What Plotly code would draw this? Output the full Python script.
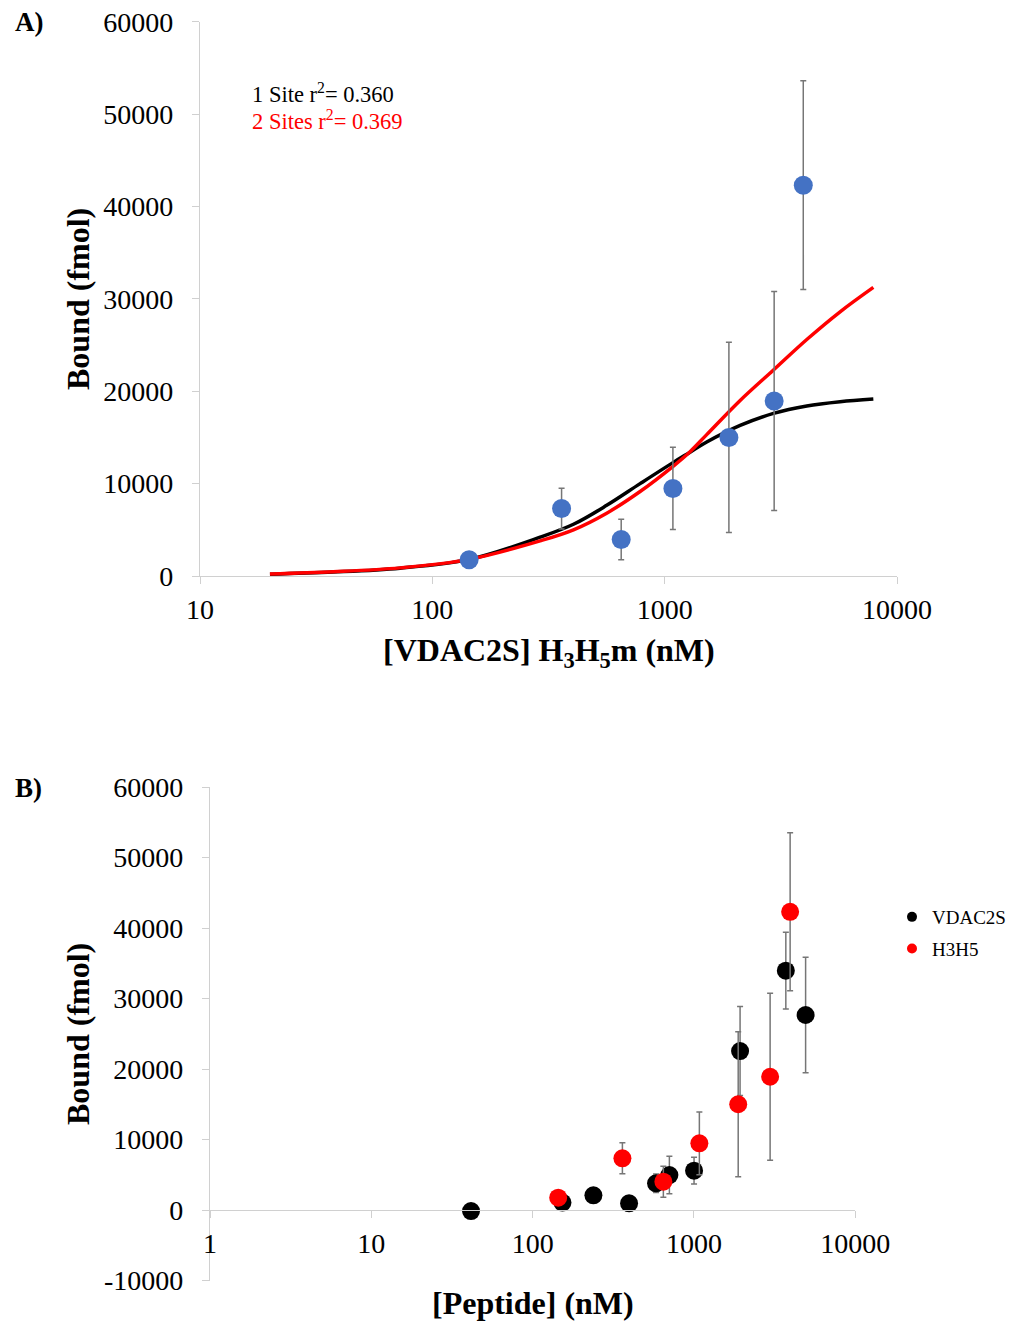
import plotly.graph_objects as go

W, H = 1011, 1321
FONT = "Liberation Serif"

# ---------- Panel A data ----------
a_conc = [144, 360, 650, 1085, 1890, 2960, 3950]
a_bound = [1750, 7300, 3950, 9480, 15000, 18950, 42300]
a_err = [0, 2200, 2180, 4450, 10300, 11850, 11300]

fit_x = [20, 37.5, 72.6, 144, 291, 405, 563, 784, 1090, 1286, 1517, 2113, 2940, 4090, 5690, 7910]
fit1_y = [190, 430, 850, 1800, 4200, 5600, 7650, 10000, 12300, 13400, 14500, 16300, 17600, 18400, 18860, 19150]
fit2_y = [220, 460, 880, 1800, 3800, 5000, 6800, 9150, 11900, 13450, 15300, 19000, 22300, 25600, 28600, 31240]

# ---------- Panel B data ----------
vdac_conc = [41.5, 153, 238, 396, 582, 704, 1001, 1931, 3710, 4920]
vdac_bound = [-150, 1050, 2080, 950, 3790, 4960, 5580, 22550, 33950, 27660]
vdac_err = [0, 0, 0, 0, 1300, 2650, 1900, 6300, 5450, 8200]

h3h5_conc = [144, 360, 646, 1080, 1880, 2965, 3945]
h3h5_bound = [1750, 7330, 4010, 9460, 15000, 18900, 42300]
h3h5_err = [0, 2200, 2200, 4450, 10300, 11850, 11200]

xticks_a = [10, 100, 1000, 10000]
xticks_b = [1, 10, 100, 1000, 10000]
yticks_a = [0, 10000, 20000, 30000, 40000, 50000, 60000]
yticks_b = [-10000, 0, 10000, 20000, 30000, 40000, 50000, 60000]

AXIS_COLOR = "#d0d0d0"
ERR_COLOR = "#767676"

def px_x(p):
    return p / W

def px_y(p):
    return 1 - p / H

fig = go.Figure()

# Panel A curves
fig.add_trace(go.Scatter(x=fit_x, y=fit1_y, mode="lines", line=dict(color="black", width=3.5, shape="spline", smoothing=1),
                         xaxis="x", yaxis="y", showlegend=False, hoverinfo="skip"))
fig.add_trace(go.Scatter(x=fit_x, y=fit2_y, mode="lines", line=dict(color="#ff0000", width=3.5, shape="spline", smoothing=1),
                         xaxis="x", yaxis="y", showlegend=False, hoverinfo="skip"))
# Panel A points
fig.add_trace(go.Scatter(x=a_conc, y=a_bound, mode="markers",
                         marker=dict(color="#4472c4", size=19),
                         error_y=dict(type="data", array=a_err, visible=True, color=ERR_COLOR, thickness=1.5, width=3),
                         xaxis="x", yaxis="y", showlegend=False))

# Panel B points
fig.add_trace(go.Scatter(x=vdac_conc, y=vdac_bound, mode="markers",
                         marker=dict(color="black", size=18),
                         error_y=dict(type="data", array=vdac_err, visible=True, color=ERR_COLOR, thickness=1.5, width=3),
                         xaxis="x2", yaxis="y2", showlegend=False))
fig.add_trace(go.Scatter(x=h3h5_conc, y=h3h5_bound, mode="markers",
                         marker=dict(color="#ff0000", size=18),
                         error_y=dict(type="data", array=h3h5_err, visible=True, color=ERR_COLOR, thickness=1.5, width=3),
                         xaxis="x2", yaxis="y2", showlegend=False))
# Legend entries
fig.add_trace(go.Scatter(x=[None], y=[None], mode="markers", name="VDAC2S", legendgroup="g1",
                         marker=dict(color="black", size=10), xaxis="x2", yaxis="y2"))
fig.add_trace(go.Scatter(x=[None], y=[None], mode="markers", name="H3H5", legendgroup="g2",
                         marker=dict(color="#ff0000", size=10), xaxis="x2", yaxis="y2"))

tickfont = dict(family=FONT, size=28, color="black")

axis_common = dict(showgrid=False, zeroline=False, showline=True, linecolor=AXIS_COLOR, linewidth=1.3,
                   ticks="outside", tickcolor=AXIS_COLOR, ticklen=7, tickwidth=1.3, tickfont=tickfont,
                   automargin=False)

fig.update_layout(
    width=W, height=H,
    margin=dict(l=0, r=0, t=0, b=0, pad=0, autoexpand=False),
    paper_bgcolor="white", plot_bgcolor="white",
    font=dict(family=FONT, color="black"),
    xaxis=dict(type="log", range=[1, 4], domain=[px_x(200), px_x(897)], anchor="y",
               tickvals=xticks_a, ticktext=[str(v) for v in xticks_a], ticklabelstandoff=1, **axis_common),
    yaxis=dict(range=[0, 60000], domain=[px_y(576), px_y(21.7)], anchor="x",
               tickvals=yticks_a, ticktext=[str(v) for v in yticks_a], ticklabelstandoff=13, **axis_common),
    xaxis2=dict(type="log", range=[0, 4], domain=[px_x(210), px_x(855.3)], anchor="free", position=px_y(1210),
                tickvals=xticks_b, ticktext=[str(v) for v in xticks_b], ticklabelstandoff=1, **axis_common),
    yaxis2=dict(range=[-10000, 60000], domain=[px_y(1280.5), px_y(787)], anchor="x2",
                tickvals=yticks_b, ticktext=[str(v) for v in yticks_b], ticklabelstandoff=13, **axis_common),
    legend=dict(x=px_x(892), y=px_y(898), xanchor="left", yanchor="top", tracegroupgap=4,
                font=dict(family=FONT, size=19, color="black"), bgcolor="rgba(0,0,0,0)"),
    showlegend=True,
)

title_font = dict(family=FONT, size=32, color="black")
annots = [
    dict(text="<b>A)</b>", x=px_x(13), y=px_y(22), xanchor="left", yanchor="middle",
         font=dict(family=FONT, size=27, color="black")),
    dict(text="<b>B)</b>", x=px_x(13), y=px_y(788), xanchor="left", yanchor="middle",
         font=dict(family=FONT, size=27, color="black")),
    dict(text="<b>Bound (fmol)</b>", x=px_x(78), y=px_y(299), textangle=-90, xanchor="center", yanchor="middle",
         font=title_font),
    dict(text="<b>Bound (fmol)</b>", x=px_x(78), y=px_y(1034), textangle=-90, xanchor="center", yanchor="middle",
         font=title_font),
    dict(text="<b>[VDAC2S] H<sub>3</sub>H<sub>5</sub>m (nM)</b>", x=px_x(549), y=px_y(653), xanchor="center",
         yanchor="middle", font=title_font),
    dict(text="<b>[Peptide] (nM)</b>", x=px_x(533), y=px_y(1303), xanchor="center", yanchor="middle",
         font=title_font),
    dict(text="1 Site r<sup>2</sup>= 0.360", x=px_x(250), y=px_y(93), xanchor="left", yanchor="middle",
         font=dict(family=FONT, size=22.5, color="black")),
    dict(text="2 Sites r<sup>2</sup>= 0.369", x=px_x(250), y=px_y(120), xanchor="left", yanchor="middle",
         font=dict(family=FONT, size=22.5, color="#ff0000")),
]
for a in annots:
    a.update(xref="paper", yref="paper", showarrow=False)
fig.update_layout(annotations=annots)

fig.write_html("out.html")
